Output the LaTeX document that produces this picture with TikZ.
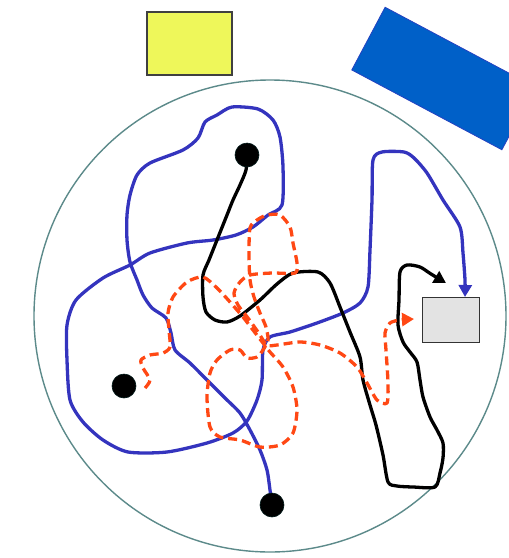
\documentclass[tikz,border=0pt]{standalone}
\usetikzlibrary{arrows.meta}
\definecolor{walkblue}{RGB}{52,52,190}
\definecolor{walkred}{RGB}{255,72,20}
\definecolor{dishline}{RGB}{92,138,138}
\definecolor{padyellow}{RGB}{238,247,90}
\definecolor{padblue}{RGB}{0,96,200}
\definecolor{boxgray}{RGB}{227,227,227}
\tikzset{
  dot/.style={circle, fill=black, draw=black!80!teal, line width=0.6pt, minimum size=24pt, inner sep=0pt},
  bluewalk/.style={draw=walkblue, line width=3.3pt, line cap=round, line join=round},
  blackwalk/.style={draw=black, line width=3.3pt, line cap=round, line join=round},
  redwalk/.style={draw=walkred, line width=3.3pt, dash pattern=on 9pt off 5pt, line join=round},
  tip/.style={-{Triangle[length=12pt,width=13pt]}}
}
\begin{document}
\begin{tikzpicture}[x=1pt,y=-1pt]
\useasboundingbox (0,0) rectangle (509,558);
\clip (0,0) rectangle (509,558);
% dish
\node[draw=dishline, line width=1.4pt, circle, minimum size=472pt, inner sep=0pt] (dish) at (270,316) {};
% pads
\node[draw=black!75, line width=2pt, fill=padyellow, minimum width=85pt, minimum height=63pt, inner sep=0pt] (ybox) at (189,43) {};
\node[draw=walkblue!70!padblue, line width=0.8pt, fill=padblue, minimum width=170pt, minimum height=71pt, inner sep=0pt, rotate=-28] (bpad) at (443.5,78.5) {};
\node[draw=black!80, line width=1.6pt, fill=boxgray, minimum width=57pt, minimum height=45pt, inner sep=0pt] (gbox) at (451,320) {};
% start points
\coordinate (p1) at (247,155);
\coordinate (p2) at (124,386);
\coordinate (p3) at (272,505);
\coordinate (bend) at (465,297);
\coordinate (kend) at (446,283);
\coordinate (rend) at (414,319);
% blue walk
\draw[bluewalk, tip] plot[smooth, tension=0.45] coordinates {(p3) (270,490) (267,470) (260,450) (250,430) (240,413) (225,398) (207,380) (190,363) (175,350) (171,333) (166,318) (152,308) (143,295) (137,280) (130,262) (127,240) (127,215) (130,195) (137,175) (150,163) (183,150) (198,138) (205,122) (217,115) (232,107) (258,109) (273,120) (280,137) (283,167) (282,205) (268,215) (253,227) (236,235) (213,240) (187,243) (150,253) (130,265) (103,278) (76,300) (67,325) (67,360) (70,400) (83,422) (103,440) (128,452) (167,452) (207,443) (233,433) (247,421) (257,400) (262,380) (263,350) (270,337) (290,332) (317,323) (343,313) (360,303) (368,287) (370,250) (372,200) (373,160) (382,152) (404,152) (414,158) (427,173) (443,200) (460,227) (463,253) (465,280) (bend)};
% black walk
\draw[blackwalk, tip] plot[smooth, tension=0.45] coordinates {(p1) (246,170) (240,185) (233,200) (227,215) (217,240) (209,260) (203,275) (203,297) (206,312) (215,320) (227,322) (240,316) (260,300) (277,284) (293,273) (318,272) (330,283) (340,307) (350,332) (360,357) (363,380) (370,405) (376,425) (383,455) (388,482) (397,486) (413,487) (435,487) (440,473) (443,458) (443,443) (437,430) (430,417) (423,397) (420,380) (417,362) (410,352) (403,342) (398,325) (399,300) (400,272) (407,265) (420,267) (431,274) (kend)};
% red walk
\draw[redwalk, tip] plot[smooth, tension=0.45] coordinates {(145,388) (150,380) (143,368) (141,360) (150,355) (163,353) (170,347) (169,330) (168,313) (173,297) (187,282) (203,277) (217,288) (230,302) (243,317) (253,330) (263,343) (270,352) (283,367) (293,387) (297,410) (293,433) (280,445) (260,447) (240,440) (220,437) (210,427) (207,397) (210,373) (217,360) (230,350) (240,350) (247,358) (257,357) (263,350) (268,340) (266,327) (260,313) (254,297) (250,280) (249,255) (250,228) (257,220) (267,215) (280,215) (290,227) (293,243) (297,263) (295,273) (272,273) (250,275) (240,282) (234,293) (238,305) (248,318) (258,332) (267,345) (277,345) (300,342) (320,345) (340,353) (357,367) (367,383) (377,400) (387,403) (388,383) (386,350) (385,333) (390,323) (400,320) (rend)};
% dots
\node[dot] (d1) at (p1) {};
\node[dot] (d2) at (p2) {};
\node[dot] (d3) at (p3) {};
\end{tikzpicture}
\end{document}
